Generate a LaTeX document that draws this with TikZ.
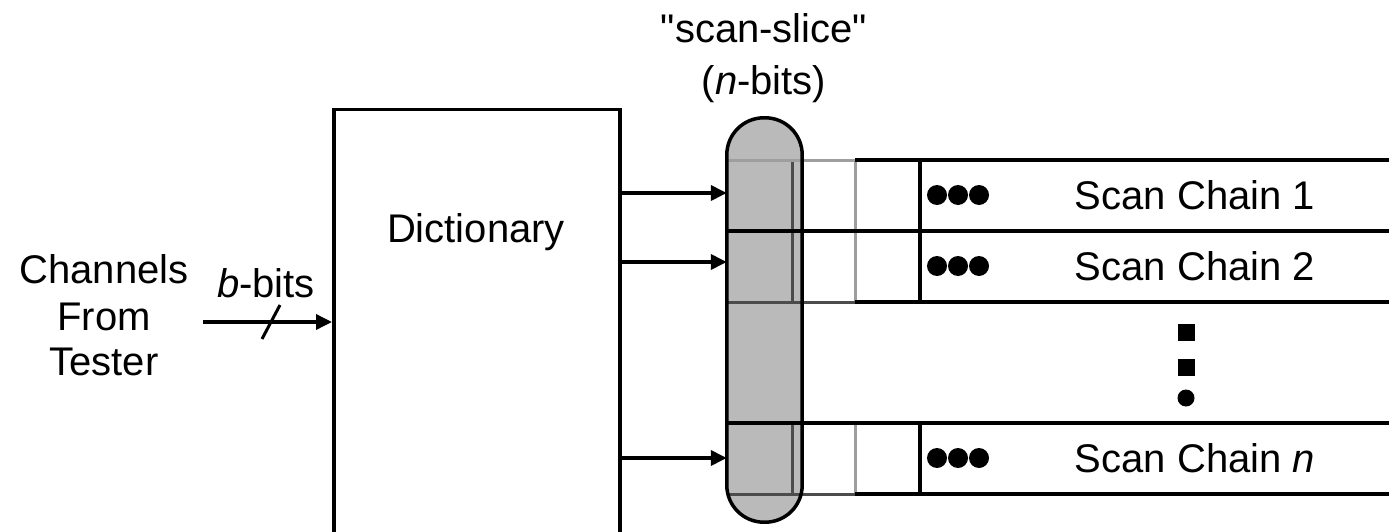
\documentclass[tikz,border=0pt]{standalone}
\usepackage{fontspec}
\setmainfont{Liberation Sans}
\usetikzlibrary{arrows.meta}

\begin{document}
\begin{tikzpicture}[x=1pt,y=-1pt,
  txt/.style={font=\fontsize{40}{46}\selectfont, inner sep=0pt, anchor=base},
  heavy/.style={line width=3.5pt},
  greyline/.style={line width=3pt, draw=black!38},
  darkline/.style={line width=3pt, draw=black!70},
  arr/.style={heavy, -{Triangle[length=16pt,width=15pt]}},
  dot/.style={fill=black, circle, inner sep=0pt, minimum size=20pt},
  sqdot/.style={fill=black, rectangle, inner sep=0pt, minimum size=17pt},
  slice/.style={rectangle, rounded corners=37pt, minimum width=75pt, minimum height=404pt, inner sep=0pt}
]
\useasboundingbox (0,0) rectangle (1389,532);
\clip (0,0) rectangle (1389,532);

% compression dictionary block
\node[heavy, draw, rectangle, minimum width=286pt, minimum height=460pt, anchor=north west, inner sep=0pt] (dict) at (332,108) {};
\node[txt] (dictlbl) at (476,242) {Dictionary};

% tester channels entering the dictionary
\node[txt] (src1) at (104,283) {Channels};
\node[txt] (src2) at (104,330) {From};
\node[txt] (src3) at (104,375) {Tester};
\coordinate (in) at (203,322);
\draw[arr] (in) -- (dict.west |- in);
\draw[line width=3pt] (262,339) -- (280,305);
\node[txt] (bw) at (266,297) {\textit{b}-bits};

% scan-slice register
\node[slice, fill=black!27] (pill) at (764.5,320) {};
\node[txt] (sl1) at (764,43) {\textquotedbl scan-slice\textquotedbl};
\node[txt] (sl2) at (764,95) {(\textit{n}-bits)};

% scan chains: boundaries of each row
\foreach \t/\b in {160/231, 231/302, 423/494} {
  \draw[greyline] (855,\t) -- (855,\b);
  \draw[heavy] (920,\t) -- (920,\b);
  \draw[darkline] (792,\t) -- (792,\b);
}
% horizontal boundaries, grey where they pass the first cell
\draw[greyline] (727,160) -- (857,160);
\draw[heavy] (855,160) -- (1395,160);
\draw[heavy] (727,231) -- (1395,231);
\draw[darkline] (727,302) -- (857,302);
\draw[heavy] (855,302) -- (1395,302);
\draw[heavy] (727,423) -- (1395,423);
\draw[darkline] (727,494) -- (857,494);
\draw[heavy] (855,494) -- (1395,494);

% outline of the slice on top of the chain cells
\draw[heavy, rounded corners=37pt] (pill.north west) rectangle (pill.south east);

% dictionary outputs into the slice
\draw[arr] (dict.east |- 0,193) -- (pill.west |- 0,193);
\draw[arr] (dict.east |- 0,262) -- (pill.west |- 0,262);
\draw[arr] (dict.east |- 0,458) -- (pill.west |- 0,458);

% chain contents
\foreach \y in {195, 266, 458} {
  \node[dot] at (937,\y) {};
  \node[dot] at (958,\y) {};
  \node[dot] at (979,\y) {};
}
\node[txt] (c1) at (1195,209) {Scan Chain 1};
\node[txt] (c2) at (1195,280) {Scan Chain 2};
\node[txt] (cn) at (1195,472) {Scan Chain \textit{n}};

% vertical ellipsis between chains
\node[sqdot] (v1) at (1186,332) {};
\node[sqdot] (v2) at (1186,367) {};
\node[dot, minimum size=17pt] (v3) at (1186,398) {};
\end{tikzpicture}
\end{document}
